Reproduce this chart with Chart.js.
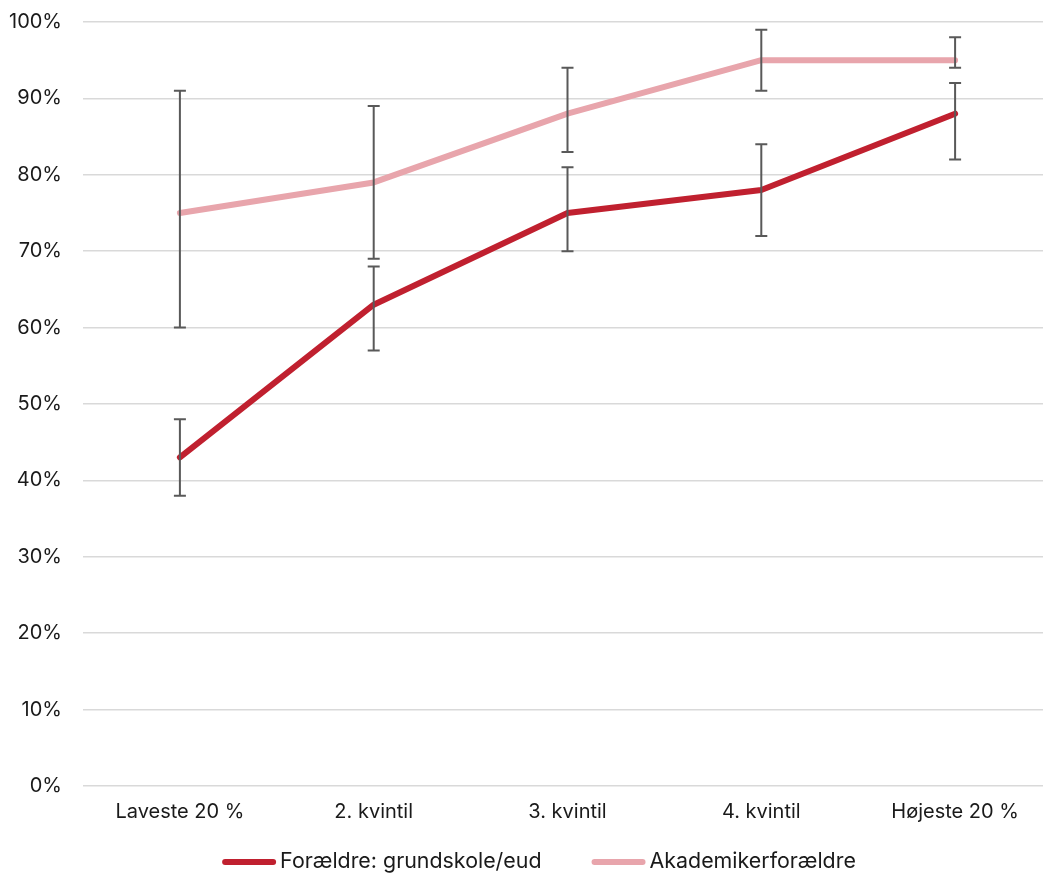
<!DOCTYPE html>
<html>
<head>
<meta charset="utf-8">
<script src="https://cdn.jsdelivr.net/npm/chart.js@4/dist/chart.umd.min.js"></script>
<style>
  html, body { margin: 0; padding: 0; background: #fff; overflow: hidden; }
  #wrap { position: relative; width: 1078px; height: 875px; }
</style>
</head>
<body>
<div id="wrap"><canvas id="c"></canvas></div>
<script>
const categories = ['Laveste 20 %', '2. kvintil', '3. kvintil', '4. kvintil', 'Højeste 20 %'];
const seriesNames = ['Forældre: grundskole/eud', 'Akademikerforældre'];
const grundValues = [43, 63, 75, 78, 88];
const grundLow    = [38, 57, 70, 72, 82];
const grundHigh   = [48, 68, 81, 84, 92];
const akadValues  = [75, 79, 88, 95, 95];
const akadLow     = [60, 69, 83, 91, 94];
const akadHigh    = [91, 89, 94, 99, 98];
const yTicks = [0, 10, 20, 30, 40, 50, 60, 70, 80, 90, 100];

const FONT = 'Inter, "Noto Sans", sans-serif';

const errorBars = {
  id: 'errorBars',
  afterDatasetsDraw(chart) {
    const ctx = chart.ctx;
    const y = chart.scales.y;
    ctx.save();
    ctx.strokeStyle = '#595959';
    ctx.lineWidth = 2;
    chart.data.datasets.forEach((ds, di) => {
      const meta = chart.getDatasetMeta(di);
      meta.data.forEach((pt, i) => {
        const x = pt.x;
        const yl = y.getPixelForValue(ds.errLow[i]);
        const yh = y.getPixelForValue(ds.errHigh[i]);
        ctx.beginPath();
        ctx.moveTo(x, yl); ctx.lineTo(x, yh);
        ctx.moveTo(x - 6, yl); ctx.lineTo(x + 6, yl);
        ctx.moveTo(x - 6, yh); ctx.lineTo(x + 6, yh);
        ctx.stroke();
      });
    });
    ctx.restore();
  }
};

const bottomLegend = {
  id: 'bottomLegend',
  afterDraw(chart) {
    const ctx = chart.ctx;
    ctx.save();
    ctx.font = '21.4px ' + FONT;
    ctx.textBaseline = 'middle';
    ctx.textAlign = 'left';
    const mW = 54, gapT = 4, gapItem = 50;
    const items = chart.data.datasets.map(ds => ({ text: ds.label, color: ds.borderColor, w: ctx.measureText(ds.label).width }));
    let total = 0;
    items.forEach((it, i) => { total += mW + gapT + it.w + (i < items.length - 1 ? gapItem : 0); });
    let x = chart.width / 2 - total / 2;
    const yc = 862;
    items.forEach(it => {
      ctx.strokeStyle = it.color;
      ctx.lineWidth = 6;
      ctx.lineCap = 'round';
      ctx.beginPath();
      ctx.moveTo(x + 3, yc); ctx.lineTo(x + mW - 3, yc);
      ctx.stroke();
      ctx.fillStyle = '#1a1a1a';
      ctx.fillText(it.text, x + mW + gapT, yc);
      x += mW + gapT + it.w + gapItem;
    });
    ctx.restore();
  }
};

Chart.defaults.font.family = FONT;
Chart.defaults.font.size = 20;
Chart.defaults.color = '#1a1a1a';

new Chart(document.getElementById('c'), {
  type: 'line',
  data: {
    labels: categories,
    datasets: [
      {
        label: seriesNames[0],
        data: grundValues,
        errLow: grundLow, errHigh: grundHigh,
        borderColor: '#C0202F',
        backgroundColor: '#C0202F',
        borderWidth: 6,
        pointRadius: 0,
        borderCapStyle: 'round',
        borderJoinStyle: 'round',
        tension: 0
      },
      {
        label: seriesNames[1],
        data: akadValues,
        errLow: akadLow, errHigh: akadHigh,
        borderColor: '#E8A5AC',
        backgroundColor: '#E8A5AC',
        borderWidth: 6,
        pointRadius: 0,
        borderCapStyle: 'round',
        borderJoinStyle: 'round',
        tension: 0
      }
    ]
  },
  options: {
    responsive: true,
    maintainAspectRatio: false,
    animation: false,
    layout: { padding: { top: 0, right: 26, left: 0, bottom: 37 } },
    plugins: {
      tooltip: { enabled: false },
      legend: { display: false }
    },
    scales: {
      x: {
        offset: true,
        grid: { display: false, drawTicks: false },
        border: { display: false },
        ticks: { padding: 14, font: { size: 20 }, color: '#1a1a1a' }
      },
      y: {
        min: 0, max: 100,
        afterFit(scale) { scale.width = 83; },
        afterBuildTicks(scale) { scale.ticks = yTicks.map(v => ({ value: v })); },
        grid: { color: '#d9d9d9', lineWidth: 1.5, drawTicks: false },
        border: { display: false },
        ticks: {
          padding: 21,
          font: { size: 20, lineHeight: 0.1 },
          color: '#1a1a1a',
          callback: v => v + '%'
        }
      }
    }
  },
  plugins: [errorBars, bottomLegend]
});
</script>
</body>
</html>
